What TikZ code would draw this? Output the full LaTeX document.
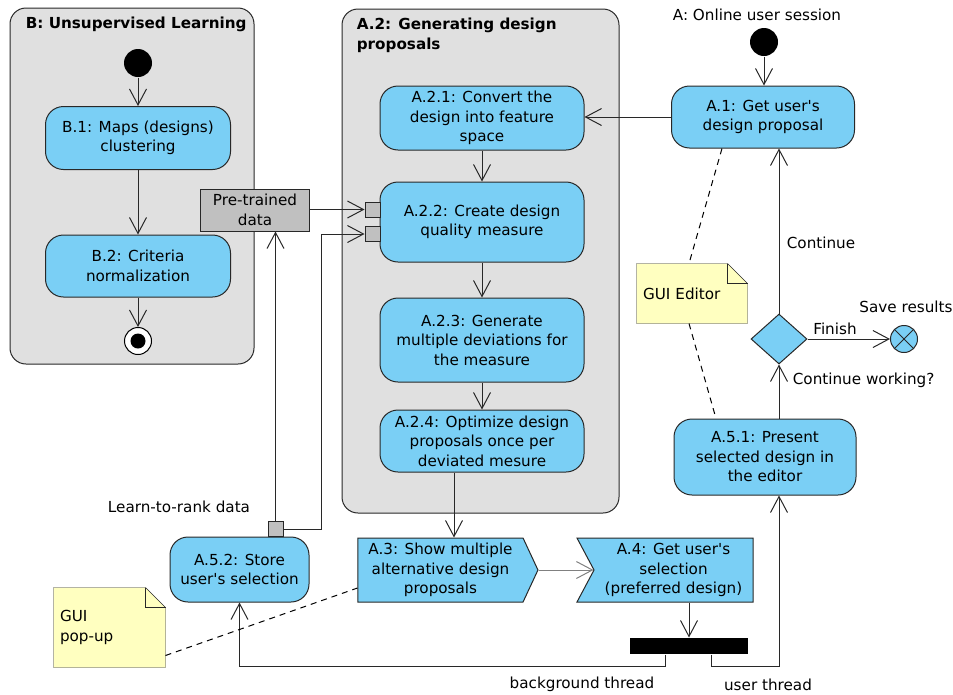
\documentclass[tikz,border=0pt]{standalone}
\usepackage{fontspec}
\setmainfont{DejaVu Sans}
\usetikzlibrary{arrows.meta,shapes.geometric,shapes.symbols,backgrounds}
\definecolor{actblue}{RGB}{122,207,245}
\definecolor{groupgray}{RGB}{224,224,224}
\definecolor{pingray}{RGB}{192,192,192}
\definecolor{noteyellow}{RGB}{255,255,192}
\definecolor{linegray}{RGB}{40,40,40}
\newcommand{\apos}{\textquotesingle}

\begin{document}
\begin{tikzpicture}[x=1pt,y=-1pt,line width=1pt,
    font=\fontsize{15.2}{19.5}\selectfont,
    every node/.style={draw=none,align=center},
    group/.style={draw=linegray,fill=groupgray,rounded corners=16pt},
    grouptitle/.style={font=\fontsize{15.2}{19.5}\selectfont\bfseries,align=left},
    act/.style={draw=linegray,fill=actblue,rounded corners=18pt,minimum width=204pt,inner sep=0pt},
    sendsig/.style={draw=linegray,fill=actblue,signal,signal to=east,signal pointer angle=130,minimum height=64pt,inner sep=0pt},
    recvsig/.style={draw=linegray,fill=actblue,signal,signal from=west,signal to=nowhere,signal pointer angle=124,minimum height=64pt,inner sep=0pt},
    startnode/.style={circle,fill=black,minimum size=28pt,inner sep=0pt},
    endnode/.style={circle,draw=black,fill=white,minimum size=27pt,inner sep=0pt,
        path picture={\fill[black] (path picture bounding box.center) circle (7.5pt);}},
    savenode/.style={circle,draw=linegray,fill=actblue,minimum size=27pt,inner sep=0pt,
        path picture={\draw (path picture bounding box.north west) -- (path picture bounding box.south east)
            (path picture bounding box.north east) -- (path picture bounding box.south west);}},
    decision/.style={diamond,draw=linegray,fill=actblue,minimum width=56pt,minimum height=50pt,inner sep=0pt},
    pinbox/.style={draw=linegray,fill=pingray,minimum size=15pt,inner sep=0pt},
    databox/.style={draw=linegray,fill=pingray,minimum width=109pt,minimum height=42pt,inner sep=0pt},
    forkbar/.style={fill=black,minimum width=118pt,minimum height=16pt,inner sep=0pt},
    notebox/.style={align=left,inner sep=6pt},
    notefill/.style={draw=linegray,fill=noteyellow},
    flow/.style={draw=linegray,-{Straight Barb[length=16pt,width=17pt]}},
    notelink/.style={draw=black,dash pattern=on 6pt off 5pt}]
    \useasboundingbox (0,0) rectangle (953,694);
    % swimlane groups
    \draw[group] (10,8) rectangle (254,364);
    \node[grouptitle,anchor=west] (btitle) at (22,24) {B: Unsupervised Learning};
    \draw[group] (342,9) rectangle (619,513);
    \node[grouptitle,anchor=west] (a2title) at (353,35.5) {A.2: Generating design\\proposals};
    % B: unsupervised learning
    \node[startnode] (bstart) at (138,63) {};
    \node[act,minimum width=185pt,minimum height=63pt] (b1) at (138,138) {B.1: Maps (designs)\\clustering};
    \node[act,minimum width=185pt,minimum height=62pt] (b2) at (138,266) {B.2: Criteria\\normalization};
    \node[endnode] (bend) at (138,341) {};
    % A.2: generating design proposals
    \node[act,minimum height=64pt] (a21) at (482,118) {A.2.1: Convert the\\design into feature\\space};
    \node[act,minimum height=80pt] (a22) at (482,222) {A.2.2: Create design\\quality measure};
    \node[act,minimum height=84pt] (a23) at (482,340) {A.2.3: Generate\\multiple deviations for\\the measure};
    \node[act,minimum height=62pt] (a24) at (482,441) {A.2.4: Optimize design\\proposals once per\\deviated mesure};
    \node[pinbox] (pin1) at (372.5,209.5) {};
    \node[pinbox] (pin2) at (372.5,234) {};
    \node[databox] (pre) at (255,210) {Pre-trained\\data};
    % A: online user session
    \node (atitle) at (757,15) {A: Online user session};
    \node[startnode] (astart) at (764,42) {};
    \node[act,minimum width=183pt,minimum height=62pt] (a1) at (763,117) {A.1: Get user\apos s\\design proposal};
    \node[decision] (dec) at (779,339) {};
    \node[savenode] (save) at (904,339) {};
    \node[act,minimum width=182pt,minimum height=76pt] (a51) at (765,457) {A.5.1: Present\\selected design in\\the editor};
    \node[act,minimum width=139pt,minimum height=65pt] (a52) at (239.5,569.5) {A.5.2: Store\\user\apos s selection};
    \node[pinbox] (pinl) at (275.5,529) {};
    \node[sendsig,minimum width=180pt] (a3) at (440.5,570) {A.3: Show multiple\\alternative design\\proposals};
    \node[recvsig,minimum width=176pt] (a4) at (673.5,570) {A.4: Get user\apos s\\selection\\(preferred design)};
    \node[forkbar] (fork) at (689,646) {};
    % notes
    \node[notebox,text width=98pt,minimum height=59pt] (guied) at (692,293.5) {GUI Editor};
    \node[notebox,text width=99pt,minimum height=79pt] (popup) at (109.5,627.5) {GUI\\pop-up};
    \begin{scope}[on background layer]
        \draw[notefill] (guied.south west) -- (guied.north west) -- ([xshift=-20pt]guied.north east)
            -- ([yshift=-20pt]guied.north east) -- (guied.south east) -- cycle;
        \draw[notefill] (popup.south west) -- (popup.north west) -- ([xshift=-20pt]popup.north east)
            -- ([yshift=-20pt]popup.north east) -- (popup.south east) -- cycle;
    \end{scope}
    \draw[draw=linegray] ([xshift=-20pt]guied.north east) |- ([yshift=-20pt]guied.north east);
    \draw[draw=linegray] ([xshift=-20pt]popup.north east) |- ([yshift=-20pt]popup.north east);
    % control flow
    \draw[flow] (bstart) -- (b1);
    \draw[flow] (b1) -- (b2);
    \draw[flow] (b2) -- (bend);
    \draw[flow] (astart) -- (astart |- a1.north);
    \draw[flow] (a1.west) -- (a1.west -| a21.east);
    \draw[flow] (a21) -- (a22);
    \draw[flow] (a22) -- (a23);
    \draw[flow] (a23) -- (a24);
    \draw[flow] ([xshift=-28pt]a24.south) -- ([xshift=-28pt]a24.south |- a3.north);
    \draw[flow,draw=gray] (a3.east) -- (a4.west);
    \draw[flow] (fork.north |- a4.south) -- (fork.north);
    \draw[flow] ([xshift=-24pt]fork.south) -- ++(0,12) -| (a52.south);
    \draw[flow] ([xshift=22pt]fork.south) -- ++(0,12) -| (a51.south -| dec);
    \draw[flow] (a51.north -| dec) -- (dec.south);
    \draw[flow] (dec.north) -- (dec.north |- a1.south);
    \draw[flow] (dec.east) -- (save.west);
    % object flow
    \draw[flow] (pre.east |- pin1) -- (pin1.west);
    \draw[flow] (pinl.north) -- (pinl.north |- pre.south);
    \draw[flow] (pinl.east) -- ++(38,0) |- (pin2.west);
    % note links
    \draw[notelink] ([xshift=-41pt]a1.south) -- ([xshift=-3pt]guied.north);
    \draw[notelink] ([xshift=-3pt]guied.south) -- ([xshift=-49pt]a51.north);
    \draw[notelink] ([yshift=-28pt]popup.east) -- ([yshift=-18pt]a3.west);
    % text
    \node[anchor=west] (lcont) at (783,243) {Continue};
    \node[anchor=west] (lwork) at (789,380) {Continue working?};
    \node (lfin) at (835,329) {Finish};
    \node (lsave) at (906,307) {Save results};
    \node (lrank) at (179,507) {Learn-to-rank data};
    \node (lback) at (582,684) {background thread};
    \node (luser) at (768,685) {user thread};
\end{tikzpicture}
\end{document}
